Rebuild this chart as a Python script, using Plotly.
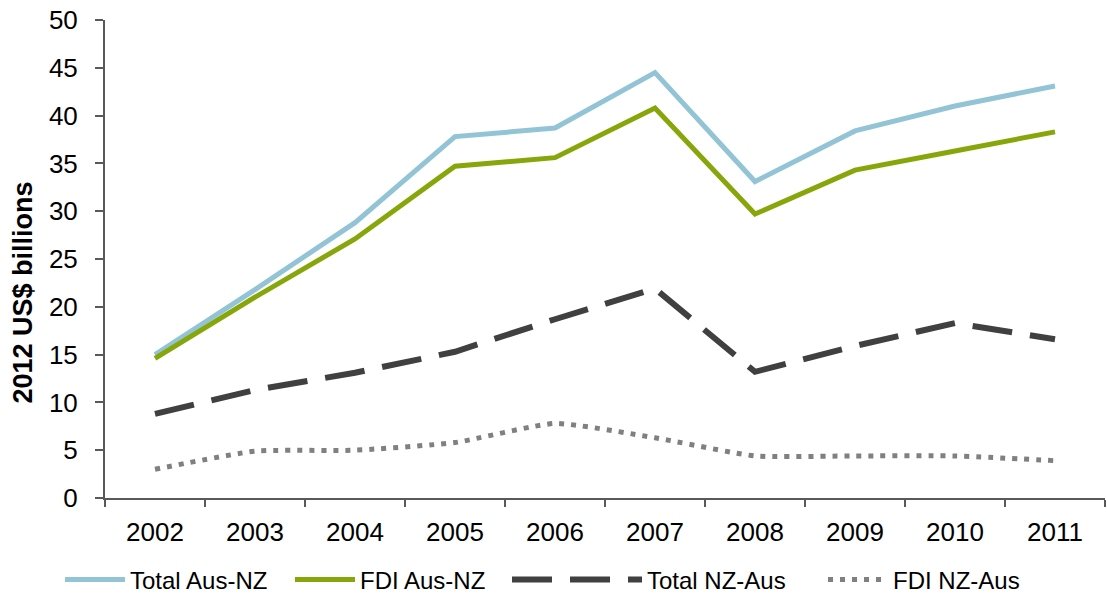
import plotly.graph_objects as go

years = ["2002", "2003", "2004", "2005", "2006", "2007", "2008", "2009", "2010", "2011"]
total_aus_nz = [15.0, 21.8, 28.8, 37.8, 38.7, 44.5, 33.1, 38.4, 41.0, 43.1]
fdi_aus_nz = [14.6, 21.0, 27.1, 34.7, 35.6, 40.8, 29.7, 34.3, 36.3, 38.3]
total_nz_aus = [8.8, 11.3, 13.1, 15.3, 18.7, 21.9, 13.2, 15.9, 18.3, 16.6]
fdi_nz_aus = [3.0, 4.9, 5.0, 5.8, 7.8, 6.3, 4.4, 4.4, 4.4, 3.9]

tick_vals = [0, 5, 10, 15, 20, 25, 30, 35, 40, 45, 50]
y_title = "2012 US$ billions"

FONT = "Liberation Sans, Arial, sans-serif"
W, H = 1107, 595

fig = go.Figure()
fig.add_trace(go.Scatter(x=years, y=total_aus_nz, mode="lines", name="Total Aus-NZ",
                         line=dict(color="#92C4D6", width=5), legend="legend"))
fig.add_trace(go.Scatter(x=years, y=fdi_aus_nz, mode="lines", name="FDI Aus-NZ",
                         line=dict(color="#86A60A", width=5), legend="legend2"))
fig.add_trace(go.Scatter(x=years, y=total_nz_aus, mode="lines", name="Total NZ-Aus",
                         line=dict(color="#404040", width=6, dash="40px,18px"), legend="legend3"))
fig.add_trace(go.Scatter(x=years, y=fdi_nz_aus, mode="lines", name="FDI NZ-Aus",
                         line=dict(color="#808080", width=5, dash="5px,7px", shape="spline", smoothing=0.5),
                         legend="legend4"))

def leg(xpx, iw):
    return dict(orientation="h", xref="container", yref="container", x=xpx / W, xanchor="left",
                y=15 / H, yanchor="middle", font=dict(size=24), itemwidth=iw,
                bgcolor="rgba(0,0,0,0)")

fig.update_layout(
    width=W, height=H,
    margin=dict(l=105, r=2, t=20, b=97, autoexpand=False),
    paper_bgcolor="white", plot_bgcolor="white",
    font=dict(family=FONT, size=24, color="black"),
    showlegend=True,
    legend=leg(60, 60),
    legend2=leg(290, 60),
    legend3=leg(507, 130),
    legend4=leg(823, 60),
    xaxis=dict(type="category", showgrid=False, showline=True, linecolor="#595959", linewidth=2,
               ticks="outside", ticklen=7, tickcolor="#595959", tickwidth=2,
               tickson="boundaries", tickfont=dict(size=26), range=[-0.5, 9.5],
               ticklabelstandoff=10),
    yaxis=dict(range=[0, 50], tickvals=tick_vals, showgrid=False, showline=True, linecolor="#595959",
               linewidth=2, ticks="outside", ticklen=8, tickcolor="#595959", tickwidth=2,
               tickfont=dict(size=26), zeroline=False, ticklabelstandoff=12),
    annotations=[dict(text="<b>" + y_title + "</b>", xref="paper", yref="paper",
                      x=-(105 - 22.5) / 1000, y=(498 - 293) / 478, xanchor="center", yanchor="middle",
                      textangle=-90, showarrow=False, font=dict(size=27, color="black"))],
)

fig.write_html("out.html")
